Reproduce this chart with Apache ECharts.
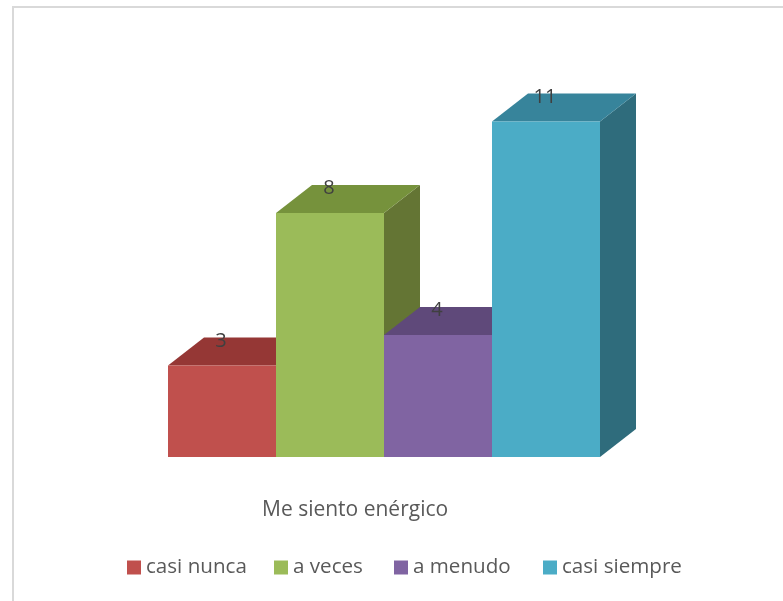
<!DOCTYPE html>
<html><head><meta charset="utf-8">
<style>html,body{margin:0;padding:0;background:#fff}#c{width:783px;height:601px}</style>
<script src="https://cdn.jsdelivr.net/npm/echarts@6/dist/echarts.min.js"></script>
</head><body><div id="c"></div>
<script>
const categories = ['casi nunca','a veces','a menudo','casi siempre'];
const values = [3,8,4,11];
const frontColors = ['#C0504D','#9BBB59','#8064A2','#4BACC6'];
const topColors = ['#953735','#76923C','#5F497A','#37849B'];
const sideColors = ['#7F2F2D','#647534','#4E3D63','#2F6C7C'];
const titleText = 'Me siento enérgico';
const fontName = '"Open Sans", sans-serif';
const depthX = 36, depthY = 28;
const legendStarts = [127,274,394,543];

function renderBar(index){
  return function(params, api){
    const base = api.coord([index, 0]);
    const top = api.coord([index, api.value(1)]);
    const w = api.size([1, 0])[0];
    const l = base[0] - w/2, r = base[0] + w/2, yT = top[1], yB = base[1];
    const poly = (pts, fill) => ({type:'polygon', shape:{points:pts}, style:{fill:fill}});
    return {type:'group', children:[
      poly([[r,yB],[r+depthX,yB-depthY],[r+depthX,yT-depthY],[r,yT]], sideColors[index]),
      poly([[l,yT],[l+depthX,yT-depthY],[r+depthX,yT-depthY],[r,yT]], topColors[index]),
      poly([[l,yT],[r,yT],[r,yB],[l,yB]], frontColors[index]),
      {type:'text', x:base[0]-1, y:yT-24.5, style:{text:String(api.value(1)), fill:'#404040', font:'20px '+fontName, textAlign:'center', textVerticalAlign:'middle'}, z2:50}
    ]};
  };
}
const chart = echarts.init(document.getElementById('c'), null, {renderer:'canvas'});
chart.setOption({
  animation:false,
  backgroundColor:'#fff',
  title:{text:titleText, left:257, top:495, textStyle:{color:'#595959', fontSize:21, fontWeight:'normal', fontFamily:fontName}},
  legend: categories.map((name,i)=>({left:legendStarts[i], top:557, padding:0, itemWidth:14, itemHeight:14, icon:'rect',
    textStyle:{color:'#595959', fontSize:20.6, fontFamily:fontName, padding:[0,0,0,0]},
    data:[name]})),
  grid:{left:168, width:432, top:91, height:366},
  xAxis:{type:'category', data:categories, show:false},
  yAxis:{type:'value', min:0, max:12, interval:2, show:false},
  graphic:[{type:'polyline', shape:{points:[[13,601],[13,7],[783,7]]}, style:{stroke:'#D9D9D9', lineWidth:2, fill:null}, silent:true}],
  series: categories.map((name,i)=>({
    name, type:'custom', renderItem:renderBar(i), itemStyle:{color:frontColors[i]},
    data:[[i, values[i]]], encode:{x:0,y:1}, clip:false, z: i+2
  }))
});
</script></body></html>
